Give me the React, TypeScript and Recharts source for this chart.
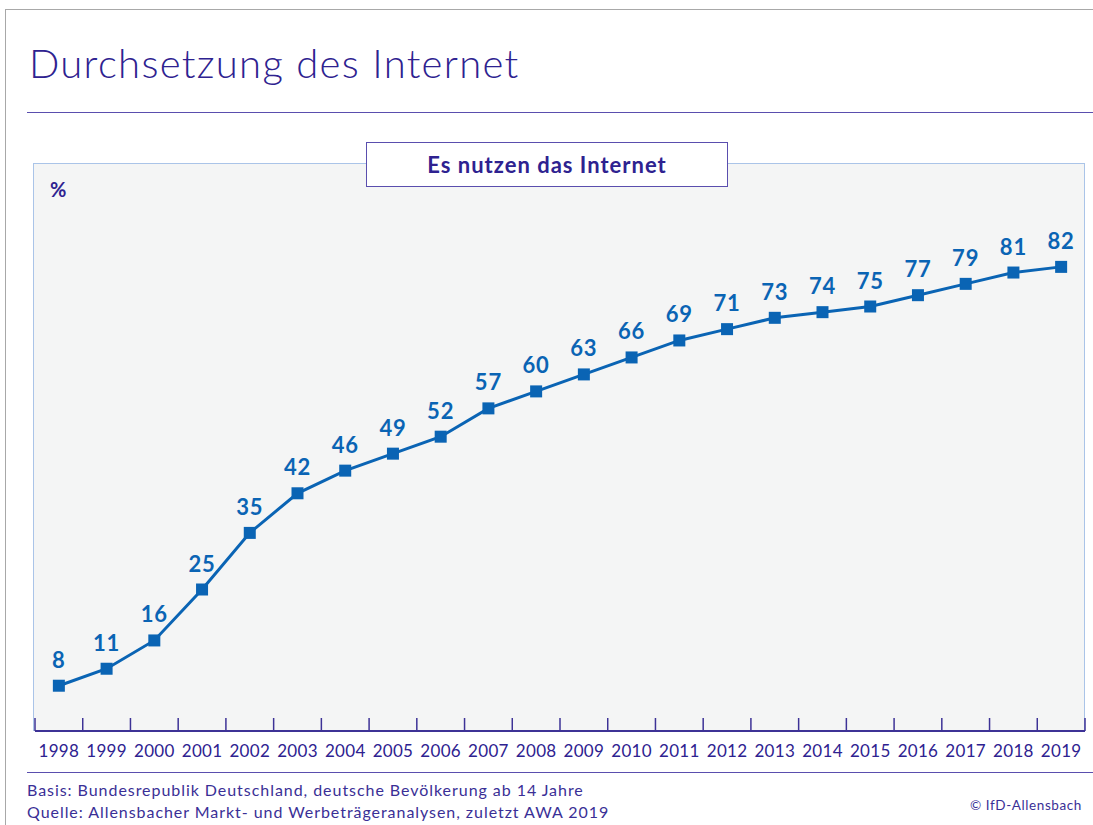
import React from "react";
import { LineChart, Line, XAxis, YAxis, LabelList } from "recharts";

const years = [
  "1998", "1999", "2000", "2001", "2002", "2003", "2004", "2005", "2006", "2007", "2008",
  "2009", "2010", "2011", "2012", "2013", "2014", "2015", "2016", "2017", "2018", "2019",
];
const internetUsers = [8, 11, 16, 25, 35, 42, 46, 49, 52, 57, 60, 63, 66, 69, 71, 73, 74, 75, 77, 79, 81, 82];

const data = years.map((year, i) => ({ year, value: internetUsers[i] }));

const FONT = "'Century Gothic', 'URW Gothic', Lato, 'DejaVu Sans', sans-serif";
const PURPLE = "#2e2290";
const BLUE = "#0a64b4";

// plot area geometry (pixels)
const PLOT_LEFT = 35;
const PLOT_RIGHT = 1085;
const PLOT_TOP = 165;
const PLOT_BOTTOM = 731;
const HALF_BAND = (PLOT_RIGHT - PLOT_LEFT) / years.length / 2;

const YearTick = (props: any) => {
  const { x, y, payload, index } = props;
  const last = index === years.length - 1;
  return (
    <g>
      <line x1={x - HALF_BAND} x2={x - HALF_BAND} y1={y - 13} y2={y} stroke="#3d3296" strokeWidth={1.5} />
      {last && <line x1={x + HALF_BAND} x2={x + HALF_BAND} y1={y - 13} y2={y} stroke="#3d3296" strokeWidth={1.5} />}
      <text x={x} y={y + 26} textAnchor="middle" fontSize={17} fill={PURPLE} fontFamily={FONT} letterSpacing={0.3}>
        {payload.value}
      </text>
    </g>
  );
};

const SquareDot = (props: any) => {
  const { cx, cy } = props;
  if (cx == null || cy == null) return null;
  return <rect x={cx - 6} y={cy - 6} width={12} height={12} fill={BLUE} />;
};

export default function App() {
  return (
    <div
      style={{
        position: "absolute",
        left: 0,
        top: 0,
        width: 1093,
        height: 825,
        background: "#fff",
        fontFamily: FONT,
        overflow: "hidden",
      }}
    >
      {/* outer frame */}
      <div style={{ position: "absolute", left: 5, top: 9, width: 1200, height: 900, borderLeft: "1.5px solid #a8a8a8", borderTop: "1.5px solid #a8a8a8" }} />
      <div
        style={{
          position: "absolute",
          left: 29,
          top: 39,
          fontSize: 40,
          fontWeight: 300,
          letterSpacing: 1.3,
          color: PURPLE,
          whiteSpace: "nowrap",
          lineHeight: "48px",
        }}
      >
        Durchsetzung des Internet
      </div>
      <div style={{ position: "absolute", left: 27, top: 112, width: 1070, height: 0, borderTop: "1.5px solid #5a4eae" }} />

      {/* plot box */}
      <div
        style={{
          position: "absolute",
          left: 33,
          top: 163,
          width: PLOT_RIGHT - 33,
          height: PLOT_BOTTOM - 163,
          background: "#f4f5f5",
          borderLeft: "1.5px solid #aac4e8",
          borderTop: "1.5px solid #aac4e8",
          borderRight: "1.5px solid #aac4e8",
          boxSizing: "border-box",
        }}
      />

      <div style={{ position: "absolute", left: 0, top: 0 }}>
        <LineChart
          width={1093}
          height={825}
          data={data}
          margin={{ top: PLOT_TOP, left: PLOT_LEFT, right: 1093 - PLOT_RIGHT, bottom: 825 - PLOT_BOTTOM - 40 }}
        >
          <XAxis
            dataKey="year"
            scale="point"
            padding={{ left: HALF_BAND, right: HALF_BAND }}
            height={40}
            tickSize={0}
            tickMargin={0}
            tickLine={false}
            axisLine={{ stroke: "#3d3296", strokeWidth: 2 }}
            tick={<YearTick />}
            interval={0}
          />
          <YAxis hide domain={[0, 100]} />
          <Line
            type="linear"
            dataKey="value"
            stroke={BLUE}
            strokeWidth={3}
            dot={<SquareDot />}
            activeDot={false}
            isAnimationActive={false}
          >
            <LabelList
              dataKey="value"
              position="top"
              offset={18}
              fill={BLUE}
              fontSize={22}
              fontWeight="bold"
              fontFamily={FONT}
              letterSpacing={0.8}
            />
          </Line>
        </LineChart>
      </div>

      {/* header box */}
      <div
        style={{
          position: "absolute",
          left: 366,
          top: 142,
          width: 362,
          height: 45,
          background: "#fff",
          border: "1.5px solid #5a4eae",
          boxSizing: "border-box",
          display: "flex",
          alignItems: "center",
          justifyContent: "center",
          fontWeight: "bold",
          fontSize: 22,
          letterSpacing: 1,
          color: PURPLE,
        }}
      >
        Es nutzen das Internet
      </div>
      <div style={{ position: "absolute", left: 50, top: 177, fontSize: 20, fontWeight: "bold", color: PURPLE }}>%</div>

      {/* footer */}
      <div style={{ position: "absolute", left: 27, top: 772, width: 1070, height: 0, borderTop: "1.5px solid #5a4eae" }} />
      <div
        style={{
          position: "absolute",
          left: 27,
          top: 779,
          fontSize: 16,
          letterSpacing: 0.95,
          color: "#3a2f96",
          lineHeight: "22px",
          whiteSpace: "nowrap",
        }}
      >
        <div>Basis: Bundesrepublik Deutschland, deutsche Bevölkerung ab 14 Jahre</div>
        <div>Quelle: Allensbacher Markt- und Werbeträgeranalysen, zuletzt AWA 2019</div>
      </div>
      <div style={{ position: "absolute", right: 11, top: 797, fontSize: 13.5, letterSpacing: 0.6, color: "#3a2f96", whiteSpace: "nowrap" }}>
        © IfD-Allensbach
      </div>
    </div>
  );
}
